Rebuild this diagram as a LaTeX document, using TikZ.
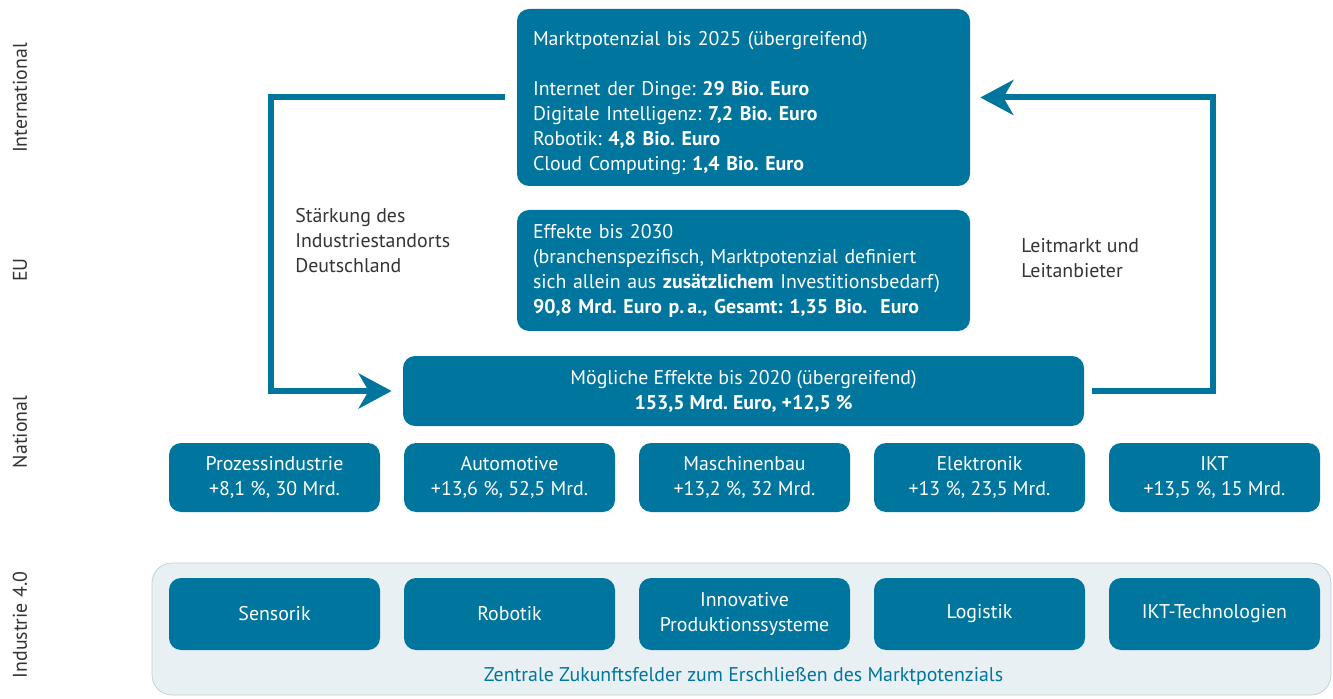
\documentclass[tikz,border=0pt]{standalone}
\usepackage{fontspec}
\setmainfont{PT Sans}
\usepackage{xcolor}
\definecolor{bmblue}{RGB}{0,117,158}
\definecolor{panelgray}{RGB}{233,240,244}
\definecolor{panelline}{RGB}{188,206,215}
\definecolor{labelgray}{RGB}{51,51,51}
\usepackage{tikz}
\usetikzlibrary{arrows.meta}
\frenchspacing
\newcommand{\boxfont}{\fontsize{11.3}{14.2}\selectfont}
\newcommand{\widthsector}{4.22cm}
\newcommand{\widthbig}{9.06cm}
\tikzset{
    common/.style={fill=bmblue, text=white, rounded corners=0.24cm, inner sep=0pt, font=\boxfont},
    bigbox/.style={common, minimum width=\widthbig, text width=8.42cm, align=left},
    sector/.style={common, minimum width=\widthsector, minimum height=1.38cm, align=center},
    field/.style={sector, minimum height=1.44cm},
    panel/.style={fill=panelgray, draw=panelline, rounded corners=0.4cm, minimum width=23.58cm, minimum height=2.64cm},
    side/.style={text=labelgray, font=\boxfont, align=left, anchor=west, inner sep=0pt},
    level/.style={text=labelgray, font=\boxfont, rotate=90},
    flow/.style={bmblue, line width=0.12cm, -{Stealth[length=0.66cm, width=0.7cm, inset=0.2cm]}},
}

\begin{document}
\begin{tikzpicture}
    \useasboundingbox (0,0) rectangle (26.66,13.96);

    % levels
    \node[level] (l-int) at (0.40,12.00) {International};
    \node[level] (l-eu) at (0.40,8.56) {EU};
    \node[level] (l-nat) at (0.40,5.32) {National};
    \node[level] (l-ind) at (0.40,1.46) {Industrie 4.0};

    % upper boxes
    \node[bigbox, minimum height=3.54cm] (mkt) at (14.87,12.01) {\rule{0pt}{14pt}Marktpotenzial bis 2025 (übergreifend)\\[14.2pt]
        Internet der Dinge: \textbf{29 Bio. Euro}\\
        Digitale Intelligenz: \textbf{7,2 Bio. Euro}\\
        Robotik: \textbf{4,8 Bio. Euro}\\
        Cloud Computing: \textbf{1,4 Bio. Euro}};
    \node[bigbox, minimum height=2.42cm] (eu) at (14.87,8.55) {Effekte bis 2030\\
        (branchenspezifisch, Marktpotenzial definiert\\
        sich allein aus \textbf{zusätzlichem} Investitionsbedarf)\\
        \textbf{90,8 Mrd. Euro p.\,a., Gesamt: 1,35 Bio.\ \ Euro}};
    \node[common, minimum width=13.62cm, minimum height=1.40cm, align=center] (nat) at (14.87,6.14)
        {Mögliche Effekte bis 2020 (übergreifend)\\ \textbf{153,5 Mrd. Euro, +12,5 \%}};

    % branches
    \path
        (5.49,4.41) node[sector] (s-proz) {Prozessindustrie\\+8,1 \%, 30 Mrd.}
        ++(4.70,0) node[sector] (s-auto) {Automotive\\+13,6 \%, 52,5 Mrd.}
        ++(4.70,0) node[sector] (s-masch) {Maschinenbau\\+13,2 \%, 32 Mrd.}
        ++(4.70,0) node[sector] (s-elek) {Elektronik\\+13 \%, 23,5 Mrd.}
        ++(4.70,0) node[sector] (s-ikt) {IKT\\+13,5 \%, 15 Mrd.};

    % industrie 4.0
    \node[panel] (panel) at (14.83,1.38) {};
    \path
        (5.49,1.68) node[field] (f-sens) {Sensorik}
        ++(4.70,0) node[field] (f-robo) {Robotik}
        ++(4.70,0) node[field] (f-prod) {Innovative\\Produktionssysteme}
        ++(4.70,0) node[field] (f-log) {Logistik}
        ++(4.70,0) node[field] (f-ikt) {IKT-Technologien};
    \node[text=bmblue, font=\boxfont] (caption) at (14.87,0.44) {Zentrale Zukunftsfelder zum Erschließen des Marktpotenzials};

    % loops
    \draw[flow, shorten <=0.24cm, shorten >=0.22cm] (mkt.west) -- ++(-4.92,0) |- (nat.west);
    \draw[flow, shorten <=0.16cm, shorten >=0.2cm] (nat.east) -- ++(2.58,0) |- (mkt.east);

    \node[side] (t-left) at (5.90,9.14) {Stärkung des\\Industriestandorts\\Deutschland};
    \node[side] (t-right) at (20.42,8.79) {Leitmarkt und\\Leitanbieter};
\end{tikzpicture}
\end{document}
